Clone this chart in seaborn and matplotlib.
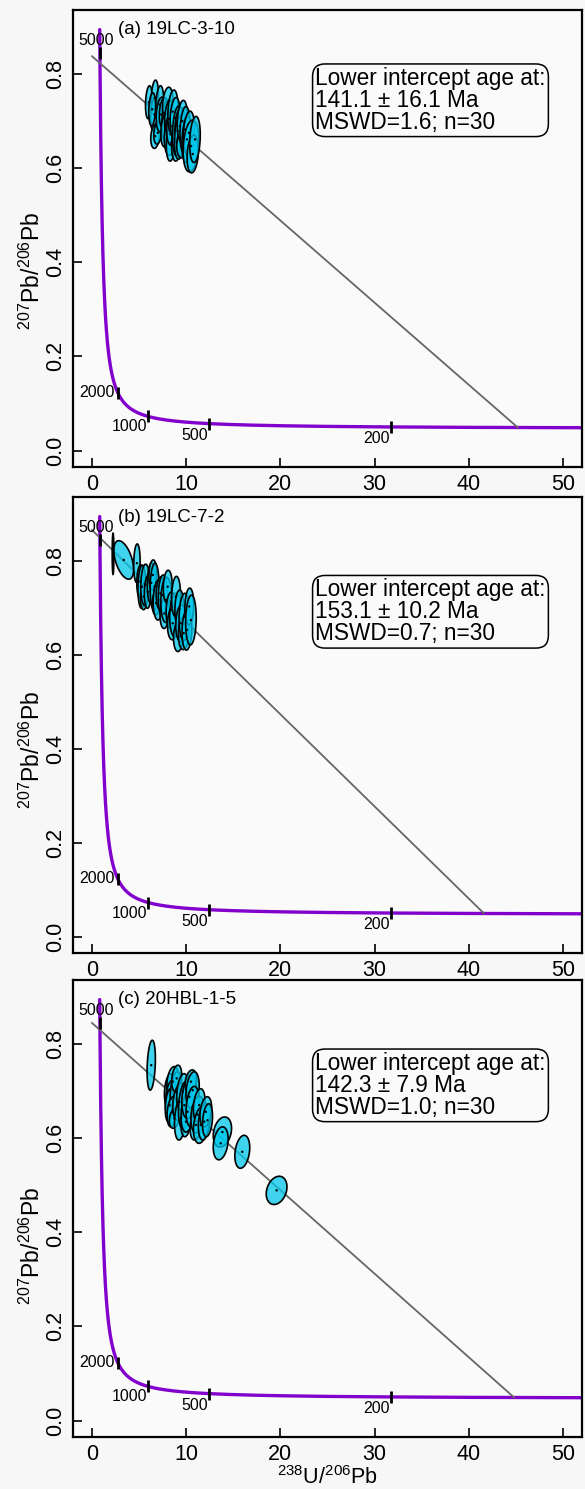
import numpy as np
import pandas as pd
import matplotlib
matplotlib.use("Agg")
import matplotlib.pyplot as plt
import seaborn as sns

# ---------------- data ----------------
panel_titles = ["(a) 19LC-3-10", "(b) 19LC-7-2", "(c) 20HBL-1-5"]
lower_ages = [141.1, 153.1, 142.3]          # Ma, lower intercept
lower_errs = [16.1, 10.2, 7.9]
mswd = [1.6, 0.7, 1.0]
n_spots = [30, 30, 30]
upper_y0 = [0.838, 0.866, 0.845]           # 207Pb/206Pb intercept at x=0

conc_label_ages = [5000, 2000, 1000, 500, 200]
x_ticks = [0, 10, 20, 30, 40, 50]
y_ticks = [0.0, 0.2, 0.4, 0.6, 0.8]

# panel (a) ellipses: centre, half-extent in x / y, correlation
a_x = [6.05, 6.68, 6.64, 6.72, 6.40, 7.20, 6.99, 7.35, 7.63, 7.95, 8.05, 7.80, 8.20,
       8.33, 8.40, 8.47, 8.60, 8.83, 9.00, 9.11, 9.35, 9.30, 9.64, 9.60, 9.88, 10.09,
       10.30, 10.52, 10.70, 10.94]
a_y = [0.740, 0.750, 0.714, 0.668, 0.725, 0.735, 0.675, 0.714, 0.718, 0.700, 0.735, 0.680, 0.705,
       0.672, 0.654, 0.689, 0.720, 0.707, 0.655, 0.679, 0.689, 0.665, 0.654, 0.700, 0.682, 0.661,
       0.675, 0.647, 0.630, 0.661]
a_sx = [0.36, 0.38, 0.42, 0.47, 0.36, 0.42, 0.42, 0.53, 0.47, 0.53, 0.56, 0.48, 0.48,
        0.64, 0.50, 0.53, 0.54, 0.53, 0.54, 0.56, 0.53, 0.54, 0.64, 0.54, 0.53, 0.53,
        0.60, 0.84, 0.60, 0.56]
a_sy = [0.035, 0.037, 0.035, 0.026, 0.035, 0.040, 0.024, 0.037, 0.032, 0.045, 0.037, 0.035, 0.040,
        0.045, 0.039, 0.040, 0.046, 0.043, 0.040, 0.053, 0.040, 0.046, 0.032, 0.044, 0.049, 0.049,
        0.046, 0.055, 0.040, 0.049]
a_rho = [0.2] * 30

# panel (b)
b_x = [2.25, 3.38, 4.78, 5.14, 5.31, 5.52, 5.66, 5.94, 6.30, 6.47, 6.65, 6.82, 7.07,
       7.28, 7.52, 7.70, 7.88, 8.05, 8.40, 8.58, 8.82, 8.93, 9.18, 9.28, 9.46, 9.74,
       9.81, 10.09, 10.34, 10.51]
b_y = [0.815, 0.802, 0.795, 0.756, 0.745, 0.724, 0.749, 0.734, 0.753, 0.770, 0.745, 0.710, 0.717,
       0.731, 0.727, 0.688, 0.717, 0.745, 0.695, 0.667, 0.685, 0.724, 0.639, 0.699, 0.667, 0.646,
       0.681, 0.653, 0.703, 0.674]
b_sx = [0.09, 1.05, 0.34, 0.37, 0.42, 0.37, 0.47, 0.37, 0.42, 0.42, 0.47, 0.42, 0.56,
        0.45, 0.47, 0.47, 0.56, 0.47, 0.52, 0.56, 0.56, 0.47, 0.52, 0.47, 0.56, 0.56,
        0.56, 0.52, 0.47, 0.56]
b_sy = [0.044, 0.041, 0.041, 0.035, 0.046, 0.028, 0.044, 0.035, 0.043, 0.032, 0.050, 0.025, 0.043,
        0.035, 0.043, 0.032, 0.048, 0.035, 0.039, 0.035, 0.046, 0.043, 0.032, 0.039, 0.039, 0.035,
        0.050, 0.043, 0.039, 0.053]
b_rho = [0.0, -0.5] + [0.1] * 28

# panel (c)
c_x = [6.30, 8.23, 8.58, 8.41, 8.23, 8.93, 9.00, 8.51, 8.75, 9.29, 9.39, 9.63, 9.81,
       9.99, 10.16, 10.34, 10.51, 10.69, 10.69, 11.04, 11.21, 11.39, 11.57, 11.92, 12.09,
       12.27, 13.85, 13.67, 15.96, 19.60]
c_y = [0.755, 0.702, 0.720, 0.684, 0.670, 0.698, 0.727, 0.656, 0.642, 0.677, 0.642, 0.698, 0.670,
       0.635, 0.656, 0.688, 0.720, 0.702, 0.667, 0.628, 0.650, 0.670, 0.628, 0.635, 0.656,
       0.638, 0.613, 0.589, 0.571, 0.489]
c_sx = [0.44, 0.53, 0.62, 0.62, 0.44, 0.62, 0.53, 0.53, 0.53, 0.70, 0.62, 0.62, 0.62,
        0.53, 0.70, 0.79, 0.62, 0.70, 0.70, 0.62, 0.70, 0.62, 0.79, 0.62, 0.62,
        0.53, 0.97, 0.79, 0.79, 1.10]
c_sy = [0.053, 0.035, 0.032, 0.039, 0.035, 0.043, 0.028, 0.032, 0.021, 0.039, 0.046, 0.039, 0.050,
        0.032, 0.043, 0.046, 0.025, 0.039, 0.043, 0.032, 0.039, 0.035, 0.039, 0.039, 0.032,
        0.035, 0.032, 0.035, 0.035, 0.030]
c_rho = [0.25] * 30

# decay constants (per year) and present-day 238U/235U
L238 = 1.55125e-10
L235 = 9.8485e-10
U_RATIO = 137.88


def tw_point(age_ma):
    t = np.asarray(age_ma, dtype=float) * 1e6
    e238 = np.exp(L238 * t) - 1.0
    e235 = np.exp(L235 * t) - 1.0
    return 1.0 / e238, e235 / (U_RATIO * e238)


def ellipse_xy(x0, y0, sx, sy, rho, n=80):
    t = np.linspace(0, 2 * np.pi, n)
    ex = x0 + sx * np.cos(t)
    ey = y0 + sy * (rho * np.cos(t) + np.sqrt(1 - rho ** 2) * np.sin(t))
    return ex, ey


panels = [
    pd.DataFrame(dict(x=a_x, y=a_y, sx=a_sx, sy=a_sy, rho=a_rho)),
    pd.DataFrame(dict(x=b_x, y=b_y, sx=b_sx, sy=b_sy, rho=b_rho)),
    pd.DataFrame(dict(x=c_x, y=c_y, sx=c_sx, sy=c_sy, rho=c_rho)),
]

# ---------------- style ----------------
sns.set_theme(style="ticks")
plt.rcParams["font.family"] = ["Liberation Sans", "DejaVu Sans"]
plt.rcParams["mathtext.fontset"] = "custom"
plt.rcParams["mathtext.rm"] = "Liberation Sans"
plt.rcParams["mathtext.default"] = "regular"
for k in ["text.color", "axes.labelcolor", "xtick.color", "ytick.color", "axes.edgecolor"]:
    plt.rcParams[k] = "black"

fig = plt.figure(figsize=(5.85, 14.89), dpi=100, facecolor="#f7f7f7")
W, H = 585.0, 1489.0
axes_px = [(10, 467), (497, 953), (980, 1437)]
box_top = [0.876, 0.822, 0.843]
ylabel_y = [0.43, 0.445, 0.418]

conc_ages = np.concatenate([np.linspace(90, 1000, 200), np.linspace(1000, 5080, 300)])
cx, cy = tw_point(conc_ages)
conc_df = pd.DataFrame(dict(x=cx, y=cy))
lx, ly = tw_point(conc_label_ages)

label_offsets = {5000: (-4, 5, "center", "bottom"),
                 2000: (-3, 0, "right", "center"),
                 1000: (-1, -3, "right", "top"),
                 500: (-1, -4, "right", "top"),
                 200: (-1, -4, "right", "top")}

for i in range(3):
    top, bot = axes_px[i]
    ax = fig.add_axes([73 / W, 1 - bot / H, 509 / W, (bot - top) / H])
    ax.set_facecolor("#fafafa")

    # concordia
    sns.lineplot(data=conc_df, x="x", y="y", sort=False, color="#8200cc",
                 linewidth=2.4, ax=ax, zorder=2)
    ax.plot(lx, ly, linestyle="none", marker="|", markersize=8, mew=2,
            color="black", zorder=3)
    for age, xx, yy in zip(conc_label_ages, lx, ly):
        dx, dy, ha, va = label_offsets[age]
        ax.annotate(str(age), (xx, yy), xytext=(dx * 0.72, dy * 0.72),
                    textcoords="offset points", ha=ha, va=va, fontsize=11.5,
                    color="black", zorder=4)

    # discordia
    li_x, li_y = tw_point(lower_ages[i])
    disc = pd.DataFrame(dict(x=[0.0, float(li_x)], y=[upper_y0[i], float(li_y)]))
    sns.lineplot(data=disc, x="x", y="y", color="#666666", linewidth=1.3,
                 ax=ax, zorder=2.5)

    # ellipses
    df = panels[i]
    for _, r in df.iterrows():
        ex, ey = ellipse_xy(r.x, r.y, r.sx, r.sy, r.rho)
        ax.fill(ex, ey, facecolor=(0.0, 0.78, 0.92, 0.75), edgecolor="black",
                linewidth=1.2, zorder=5)
    sns.scatterplot(data=df, x="x", y="y", s=3, color="black", edgecolor="none",
                    ax=ax, zorder=6, legend=False)

    # text
    ax.text(0.088, 1 - 24.5 / (bot - top), panel_titles[i], transform=ax.transAxes,
            fontsize=13.5, ha="left", va="baseline")
    txt = (f"Lower intercept age at:\n{lower_ages[i]:.1f} \u00b1 {lower_errs[i]:.1f} Ma\n"
           f"MSWD={mswd[i]:.1f}; n={n_spots[i]}")
    ax.text(0.476, box_top[i], txt, transform=ax.transAxes, fontsize=16.3,
            ha="left", va="top", linespacing=0.95,
            bbox=dict(boxstyle="round,pad=0.12,rounding_size=0.55",
                      fc="#fafafa", ec="black", lw=1.1), zorder=7)

    ax.set_xlim(-2, 52)
    ax.set_ylim(-0.035, 0.936)
    ax.set_xticks(x_ticks)
    ax.set_yticks(y_ticks)
    ax.set_xticklabels([str(v) for v in x_ticks])
    ax.set_yticklabels([f"{v:.1f}" for v in y_ticks])
    ax.tick_params(direction="in", length=6.5, width=1.2, labelsize=15.5,
                   pad=5.0, colors="black")
    ax.tick_params(axis="y", labelrotation=90)
    for lab in ax.get_yticklabels():
        lab.set_va("center")
    for sp in ax.spines.values():
        sp.set_visible(True)
        sp.set_linewidth(1.6)
        sp.set_color("black")
    ax.set_ylabel("$^{207}$Pb/$^{206}$Pb", fontsize=16.5)
    ax.yaxis.set_label_coords(-0.055, ylabel_y[i])
    if i == 2:
        ax.set_xlabel("$^{238}$U/$^{206}$Pb", fontsize=15.5, labelpad=1)
    else:
        ax.set_xlabel("")

fig.savefig("out.png", dpi=100, facecolor=fig.get_facecolor())
